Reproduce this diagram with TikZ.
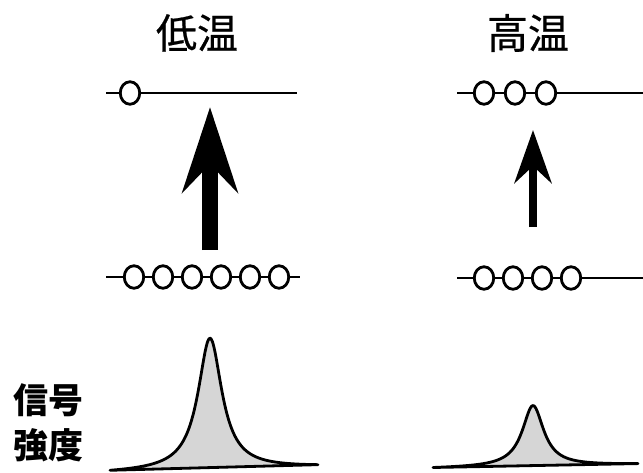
\documentclass[tikz,border=0pt]{standalone}
\usepackage{fontspec}
\newfontfamily\jpfont{Noto Sans CJK JP}
\newfontfamily\jpheadfont[FakeBold=0.6]{Noto Sans CJK JP}
\usetikzlibrary{shapes.geometric,arrows.meta}
\definecolor{peakfill}{HTML}{D6D6D6}
\tikzset{
  bead/.style={ellipse, draw, line width=2.8pt, minimum width=19.5pt, minimum height=22.5pt, inner sep=0pt, fill=white},
  chain/.style={line width=2.8pt},
  curve/.style={line width=2.8pt, line join=round, fill=peakfill},
  label/.style={font=\jpheadfont\fontsize{41}{41}\selectfont, inner sep=0pt},
  axislabel/.style={font=\jpfont\bfseries\fontsize{35}{35}\selectfont, inner sep=0pt},
}
\begin{document}
\begin{tikzpicture}[x=1pt, y=-1pt]
\useasboundingbox (0,0) rectangle (643,472);

% headings
\node[label] (tlow) at (197,33) {低温};
\node[label] (thigh) at (528,33) {高温};
\node[axislabel] (sig1) at (48,400) {信号};
\node[axislabel] (sig2) at (48,445) {強度};

% low temperature: upper chain
\coordinate (lt0) at (106,93);
\coordinate (lt9) at (297,93);
\node[bead] (lt1) at (130,93) {};
\draw[chain] (lt0) -- (lt1) (lt1) -- (lt9);

% low temperature: lower chain
\coordinate (lb0) at (106,277);
\coordinate (lb9) at (300,277);
\foreach \i in {1,...,6} {
  \node[bead] (lb\i) at ({134+29*(\i-1)},277) {};
}
\draw[chain] (lb0) -- (lb1) (lb1) -- (lb2) (lb2) -- (lb3) (lb3) -- (lb4)
  (lb4) -- (lb5) (lb5) -- (lb6) (lb6) -- (lb9);

% high temperature: upper chain
\coordinate (ht0) at (457,93);
\coordinate (ht9) at (643,93);
\node[bead] (ht1) at (484,93) {};
\node[bead] (ht2) at (515,93) {};
\node[bead] (ht3) at (546,93) {};
\draw[chain] (ht0) -- (ht1) (ht1) -- (ht2) (ht2) -- (ht3) (ht3) -- (ht9);

% high temperature: lower chain
\coordinate (hb0) at (457,278);
\coordinate (hb9) at (643,278);
\foreach \i in {1,...,4} {
  \node[bead] (hb\i) at ({484+29*(\i-1)},278) {};
}
\draw[chain] (hb0) -- (hb1) (hb1) -- (hb2) (hb2) -- (hb3) (hb3) -- (hb4) (hb4) -- (hb9);

% transfer arrows
\coordinate (la0) at (210,250);
\coordinate (la1) at (210,107);
\draw[line width=16pt, -{Stealth[length=85pt, width=55pt, inset=28pt]}] (la0) -- (la1);
\coordinate (ha0) at (533,227);
\coordinate (ha1) at (533,130);
\draw[line width=8pt, -{Stealth[length=53pt, width=37pt, inset=17pt]}] (ha0) -- (ha1);

% signal peaks (Lorentzian line shapes)
\draw[curve] plot[domain=110:318, samples=180, smooth]
  (\x, {470 - 6*(\x-110)/208 + 3 - 132/(((\x-210)/14.5)^2+1)}) -- cycle;
\draw[curve] plot[domain=433:638, samples=180, smooth]
  (\x, {467 - 4*(\x-433)/205 + 1.5 - 61/(((\x-533)/13)^2+1)}) -- cycle;
\end{tikzpicture}
\end{document}
